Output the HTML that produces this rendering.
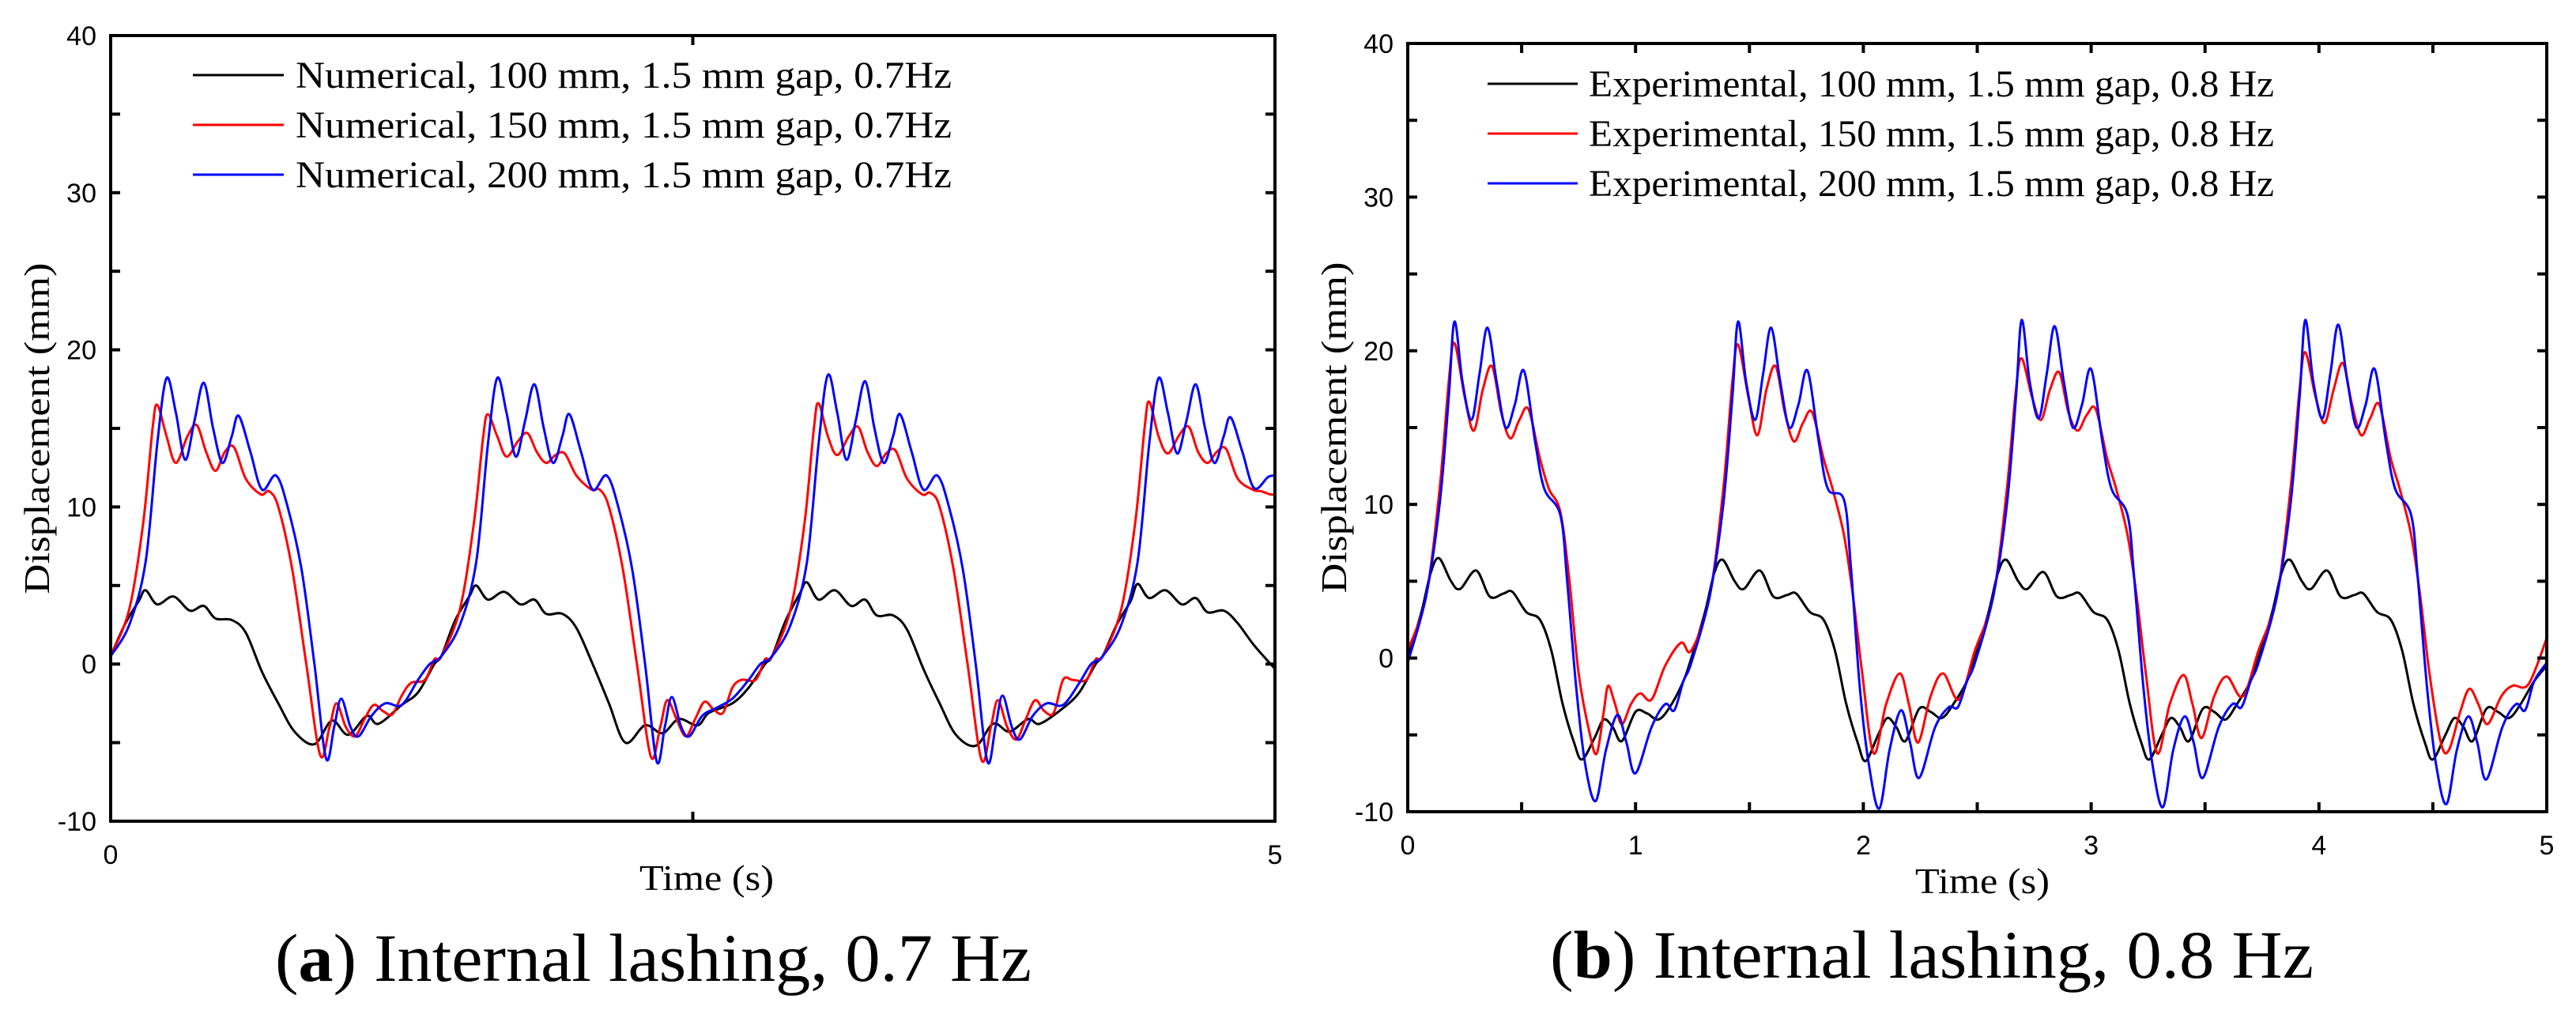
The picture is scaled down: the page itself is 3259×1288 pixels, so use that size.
<!DOCTYPE html>
<html><head><meta charset="utf-8"><style>html,body{margin:0;padding:0;background:#fff}svg{display:block}</style></head>
<body>
<svg id="fig" xmlns="http://www.w3.org/2000/svg" width="3259" height="1288" viewBox="0 0 3259 1288">
<rect width="3259" height="1288" fill="#fff"/>
<g id="pa"></g>
<g id="pb"></g>
</svg>
<script>
// ---------- Panel A data (0.7 Hz, numerical) ----------
const aBlueT=[0,0.08,0.15,0.20,0.24,0.28,0.32,0.36,0.40,0.44,0.48,0.52,0.55,0.60,0.65,0.71,0.76,0.82,0.875,0.925,0.96,0.99,1.03,1.065,1.12,1.18,1.25,1.32,1.37,
1.42,1.50,1.57,1.62,1.66,1.70,1.74,1.78,1.82,1.86,1.90,1.94,1.97,2.02,2.07,2.13,2.18,2.24,2.295,2.345,2.38,2.41,2.45,2.485,2.54,2.60,2.67,2.74,2.79,
2.84,2.92,2.99,3.04,3.08,3.12,3.16,3.20,3.24,3.28,3.32,3.36,3.39,3.44,3.49,3.55,3.60,3.66,3.715,3.765,3.80,3.83,3.87,3.905,3.96,4.02,4.09,4.16,4.21,
4.26,4.34,4.41,4.46,4.50,4.54,4.58,4.62,4.66,4.70,4.74,4.78,4.81,4.86,4.91,4.97,5.0];
const aBlueV=[0.5,2.5,6.5,14,18.2,16,13,15.5,17.9,15,12.8,14.5,15.8,13.5,11.1,12,10,6,0,-6,-4,-2.2,-4,-4.6,-3.3,-2.5,-2.6,-1,0,
0.5,2.5,6.5,14,18.2,16,13.2,15.5,17.8,15,12.8,14.5,15.9,13.5,11.1,12,10,6,0,-6.2,-4,-2.1,-4,-4.6,-3.3,-2.8,-2.2,-1,0,
0.5,2.5,6.5,14,18.4,16,13,15.5,18,15,12.8,14.5,15.9,13.5,11.1,12,10,6,0,-6.2,-4,-2,-4,-4.8,-3.3,-2.5,-2.6,-1.2,0,
0.5,2.5,6.5,14,18.2,16,13.4,15.5,17.8,15,12.8,14.5,15.7,13.5,11.2,11.9,12];
const aRedT=[0,0.08,0.14,0.18,0.20,0.24,0.28,0.33,0.37,0.41,0.45,0.49,0.53,0.58,0.645,0.68,0.72,0.78,0.84,0.90,0.94,0.97,1.01,1.05,1.09,1.13,1.17,1.21,1.25,1.29,1.35,1.39,
1.42,1.50,1.56,1.60,1.62,1.66,1.70,1.75,1.79,1.83,1.87,1.91,1.95,2.00,2.065,2.10,2.14,2.20,2.26,2.32,2.36,2.39,2.43,2.47,2.51,2.55,2.59,2.63,2.67,2.71,2.77,2.81,
2.84,2.92,2.98,3.02,3.04,3.08,3.12,3.17,3.21,3.25,3.29,3.33,3.37,3.42,3.485,3.52,3.56,3.62,3.68,3.74,3.78,3.81,3.85,3.89,3.93,3.97,4.01,4.05,4.09,4.13,4.19,4.23,
4.26,4.34,4.40,4.44,4.46,4.50,4.54,4.59,4.63,4.67,4.71,4.75,4.79,4.84,4.905,4.94,4.98,5.0];
const aRedV=[0.5,3.5,9,15,16.5,14.5,12.8,14.5,15.2,13.5,12.3,13.5,13.8,11.8,10.8,11,10,6,0,-5.8,-4,-2.5,-4,-4.6,-3.5,-2.6,-3,-3.2,-2,-1.2,-1,0.3,
0.5,3.5,9,14.5,15.9,14.5,13.2,14.2,14.7,13.5,12.8,13.3,13.4,12,11.1,11.1,10,6,0,-5.9,-4,-2.3,-3.5,-4.6,-3.5,-2.4,-2.9,-3.1,-1.5,-1,-1,0.3,
0.5,3.5,9,15,16.6,14.5,13.3,14.5,15.1,13.5,12.6,13.4,13.6,11.8,10.8,10.9,10,6,0,-6.1,-4,-2.3,-4,-4.8,-3.5,-2.3,-3,-3.1,-1,-1,-1,0.3,
0.5,3.5,9,15,16.7,14.5,13.4,14.6,15.1,13.5,12.8,13.5,13.7,11.8,11.1,11,10.8,10.8];
const aBlackT=[0,0.06,0.12,0.15,0.20,0.27,0.34,0.40,0.45,0.52,0.58,0.65,0.72,0.79,0.875,0.95,1.02,1.10,1.15,1.25,1.32,1.39,
1.42,1.48,1.54,1.57,1.62,1.69,1.76,1.82,1.87,1.94,2.00,2.07,2.14,2.21,2.295,2.37,2.44,2.52,2.57,2.67,2.74,2.81,
2.84,2.90,2.96,2.99,3.04,3.11,3.18,3.24,3.29,3.36,3.42,3.49,3.56,3.63,3.715,3.79,3.86,3.94,3.99,4.09,4.16,4.23,
4.26,4.32,4.38,4.41,4.46,4.53,4.60,4.66,4.71,4.78,4.84,4.91,5.0];
const aBlackV=[0.5,2.5,4,4.7,3.8,4.3,3.4,3.7,2.9,2.8,2,-0.5,-2.5,-4.3,-5.1,-3.6,-4.5,-3.3,-3.8,-2.6,-1.8,0,
0.5,2.8,4.3,5,4.1,4.6,3.8,4.1,3.2,3.2,2.3,0,-2.5,-5,-3.9,-4.4,-3.5,-3.9,-3.1,-2.5,-1.5,0,
0.5,2.8,4.5,5.2,4.1,4.7,3.7,4.1,3.1,3.1,2.2,-0.3,-2.5,-4.5,-5.2,-3.8,-4.3,-3.5,-3.8,-2.8,-1.8,0,
0.5,2.5,4,5.1,4.2,4.7,3.8,4.2,3.3,3.4,2.6,1.2,-0.3];
const aLegend=["Numerical, 100 mm, 1.5 mm gap, 0.7Hz","Numerical, 150 mm, 1.5 mm gap, 0.7Hz","Numerical, 200 mm, 1.5 mm gap, 0.7Hz"];
const aYTicks=[-10,0,10,20,30,40];
const aXTicks=[0,5];

// ---------- Panel B data (0.8 Hz, experimental) ----------
const bBlueT=[0,0.08,0.14,0.18,0.205,0.24,0.28,0.315,0.35,0.39,0.43,0.47,0.51,0.56,0.60,0.67,0.70,0.74,0.78,0.825,0.87,0.92,0.96,1.0,1.07,1.13,1.17,1.21,
1.245,1.325,1.385,1.425,1.45,1.485,1.525,1.56,1.595,1.635,1.675,1.715,1.755,1.805,1.845,1.915,1.945,1.985,2.025,2.07,2.115,2.165,2.205,2.245,2.315,2.375,2.415,2.455,
2.49,2.57,2.63,2.67,2.695,2.73,2.77,2.805,2.84,2.88,2.92,2.96,3.00,3.05,3.09,3.16,3.19,3.23,3.27,3.315,3.36,3.41,3.45,3.49,3.56,3.62,3.66,3.70,
3.735,3.815,3.875,3.915,3.94,3.975,4.015,4.05,4.085,4.125,4.165,4.205,4.245,4.295,4.335,4.405,4.435,4.475,4.515,4.56,4.605,4.655,4.695,4.735,4.805,4.865,4.905,4.945,5.0];
const bBlueV=[-0.3,4,10,17,21.9,18,15.5,18.5,21.5,18,15,16.5,18.7,14,11,9.3,5,-2,-7,-9.3,-6,-3.7,-5.5,-7.5,-4.5,-3,-3.4,-1.5,
-0.3,4,10,17,21.9,18,15.5,18.5,21.5,18,15,16.5,18.7,14,11,10.3,6,-2,-7,-9.8,-6,-3.4,-5.5,-7.8,-4.5,-3.2,-3.2,-1.5,
-0.3,4,10,17,22,18,15.6,18.5,21.6,18,15,16.5,18.8,14,11,9.3,5,-2,-7,-9.7,-6,-3.8,-5.5,-7.8,-4.5,-3,-3.2,-1.5,
-0.3,4,10,17,22,18,15.6,18.5,21.7,18,15,16.5,18.8,14,11,9.3,5,-2,-7,-9.5,-6,-3.8,-5.5,-7.9,-4.5,-3,-3.4,-1.5,-0.3];
const bRedT=[0,0.08,0.14,0.18,0.205,0.25,0.29,0.33,0.37,0.41,0.45,0.49,0.53,0.58,0.62,0.67,0.71,0.75,0.80,0.83,0.86,0.88,0.91,0.94,0.98,1.02,1.07,1.13,1.20,
1.245,1.325,1.385,1.425,1.45,1.495,1.535,1.575,1.615,1.655,1.695,1.735,1.775,1.825,1.865,1.915,1.955,1.995,2.045,2.10,2.16,2.20,2.24,2.295,2.35,2.42,
2.49,2.57,2.63,2.67,2.695,2.74,2.78,2.82,2.86,2.90,2.94,2.98,3.02,3.07,3.11,3.16,3.20,3.24,3.29,3.345,3.405,3.445,3.485,3.54,3.595,3.665,
3.735,3.815,3.875,3.915,3.94,3.985,4.025,4.065,4.105,4.145,4.185,4.225,4.265,4.315,4.355,4.405,4.445,4.485,4.535,4.57,4.62,4.66,4.70,4.74,4.80,4.85,4.92,5.0];
const bRedV=[0.5,4,11,18,20.5,17,14.8,17.5,19,16,14.3,15.5,16.2,13,11,9.5,5,-1,-5,-6.2,-3.5,-1.8,-3,-4.3,-3,-2.3,-2.7,-0.5,1,
0.5,4,11,18,20.4,17,14.5,17.5,19,16,14.1,15.3,16,13,11,8,4,-1,-6.2,-3,-1,-3,-5.5,-2.5,-1,-2.7,
0.5,4,11,17.5,19.5,17,15.5,17.5,18.6,16,14.8,15.8,16.2,13,11,8,4,-1,-6.2,-3,-1.1,-3,-5.2,-2.5,-1.2,-2.5,
0.5,4,11,17.5,19.9,17,15.3,17.5,19.2,16.5,14.5,15.6,16.5,13,11,8,4,-1,-5.5,-6,-3.5,-2,-3,-4.3,-2.5,-1.8,-1.7,1.3];
const bBlackT=[0,0.06,0.1,0.137,0.19,0.23,0.3,0.36,0.42,0.46,0.52,0.58,0.63,0.68,0.73,0.765,0.82,0.86,0.9,0.94,1.0,1.05,1.1,1.15,1.21,
1.245,1.305,1.345,1.382,1.435,1.475,1.545,1.605,1.665,1.705,1.765,1.825,1.875,1.925,1.975,2.01,2.065,2.105,2.145,2.185,2.245,2.295,2.345,2.395,2.455,
2.49,2.55,2.59,2.627,2.68,2.72,2.79,2.85,2.91,2.95,3.01,3.07,3.12,3.17,3.22,3.255,3.31,3.35,3.39,3.43,3.49,3.54,3.59,3.64,3.70,
3.735,3.795,3.835,3.872,3.925,3.965,4.035,4.095,4.155,4.195,4.255,4.315,4.365,4.415,4.465,4.50,4.555,4.595,4.635,4.675,4.735,4.785,4.835,4.885,4.945,5.0];
const bBlackV=[0,3,5.5,6.5,5,4.5,5.7,4,4.2,4.3,3,2.5,0.5,-3,-5.5,-6.6,-5.2,-4,-4.5,-5.4,-3.5,-3.6,-4,-3.2,-1.5,
0,3,5.5,6.4,5,4.5,5.7,4,4.1,4.2,3,2.5,0.5,-3,-5.5,-6.7,-5,-3.9,-4.5,-5.4,-3.3,-3.5,-3.9,-3,-1.5,
0,3,5.5,6.4,5,4.5,5.6,4,4.1,4.2,3,2.5,0.5,-3,-5.5,-6.6,-5,-3.9,-4.5,-5.4,-3.3,-3.5,-4,-3,-1.5,
0,3,5.5,6.4,5,4.5,5.7,4,4.1,4.2,3,2.5,0.5,-3,-5.5,-6.6,-5,-3.9,-4.5,-5.4,-3.3,-3.5,-3.9,-3,-1.5,-0.5];
const bLegend=["Experimental, 100 mm, 1.5 mm gap, 0.8 Hz","Experimental, 150 mm, 1.5 mm gap, 0.8 Hz","Experimental, 200 mm, 1.5 mm gap, 0.8 Hz"];
const bYTicks=[-10,0,10,20,30,40];
const bXTicks=[0,1,2,3,4,5];

const NS="http://www.w3.org/2000/svg";
function mk(parent,tag,attrs,text){const e=document.createElementNS(NS,tag);for(const k in attrs)e.setAttribute(k,attrs[k]);if(text!==undefined)e.textContent=text;parent.appendChild(e);return e;}
function smoothPath(pts){
  let d="M"+pts[0][0].toFixed(1)+","+pts[0][1].toFixed(1);
  for(let i=0;i<pts.length-1;i++){
    const p0=pts[Math.max(0,i-1)],p1=pts[i],p2=pts[i+1],p3=pts[Math.min(pts.length-1,i+2)];
    const c1=[p1[0]+(p2[0]-p0[0])/6,p1[1]+(p2[1]-p0[1])/6];
    const c2=[p2[0]-(p3[0]-p1[0])/6,p2[1]-(p3[1]-p1[1])/6];
    d+="C"+c1[0].toFixed(1)+","+c1[1].toFixed(1)+" "+c2[0].toFixed(1)+","+c2[1].toFixed(1)+" "+p2[0].toFixed(1)+","+p2[1].toFixed(1);
  }
  return d;
}
function panel(g,cfg){
  const L=cfg.L,R=cfg.R,T=cfg.T,B=cfg.B;
  const xs=t=>L+(t-0)/(5-0)*(R-L);
  const ys=v=>B-(v+10)/50*(B-T);
  const cp=mk(g,"clipPath",{id:cfg.id+"clip"});mk(cp,"rect",{x:L,y:T-2,width:R-L,height:B-T+4});
  const sg=mk(g,"g",{"clip-path":"url(#"+cfg.id+"clip)"});
  
  
  cfg.series.forEach(s=>{
    const pts=s.t.map((t,i)=>[xs(t),ys(s.v[i])]);
    const p=mk(sg,"path",{d:smoothPath(pts),fill:"none",stroke:s.c,"stroke-width":3,"stroke-linejoin":"round"});
    
    
  });
  const fr=mk(g,"rect",{x:L,y:T,width:R-L,height:B-T,fill:"none",stroke:"#000","stroke-width":4});
  
  
  for(let v=-10;v<=40;v+=5){
    const y=ys(v);
    mk(g,"line",{x1:L,x2:L+12,y1:y,y2:y,stroke:"#000","stroke-width":4});
    mk(g,"line",{x1:R,x2:R-12,y1:y,y2:y,stroke:"#000","stroke-width":4});
  }
  cfg.yTicks.forEach(v=>{
    const t=mk(g,"text",{x:L-18,y:ys(v)+12,"text-anchor":"end","font-family":"Liberation Sans, sans-serif","font-size":34},String(v));
    
    
  });
  for(let t=0;t<=5.001;t+=cfg.xMinor){
    const x=xs(t);
    mk(g,"line",{x1:x,x2:x,y1:B,y2:B-12,stroke:"#000","stroke-width":4});
    mk(g,"line",{x1:x,x2:x,y1:T,y2:T+12,stroke:"#000","stroke-width":4});
  }
  cfg.xTicks.forEach(v=>{
    const t=mk(g,"text",{x:xs(v),y:B+54,"text-anchor":"middle","font-family":"Liberation Sans, sans-serif","font-size":34},String(v));
    
    
  });
  const lg=mk(g,"g",{});
  
  
  cfg.legend.forEach((txt,i)=>{
    const y=cfg.legY+i*63;
    const ln=mk(lg,"line",{x1:cfg.legX1,x2:cfg.legX2,y1:y,y2:y,stroke:cfg.series[i].c,"stroke-width":3});
    
    
    const t=mk(lg,"text",{x:cfg.legTX,y:y+16,"font-family":"Liberation Serif, serif","font-size":48,textLength:cfg.legW,lengthAdjust:"spacingAndGlyphs"},txt);
    
    
  });
  const yt=mk(g,"text",{x:0,y:0,transform:"translate("+(cfg.yTitleX)+","+((T+B)/2)+") rotate(-90)","text-anchor":"middle","font-family":"Liberation Serif, serif","font-size":46,textLength:419,lengthAdjust:"spacingAndGlyphs"},"Displacement (mm)");
  
  
  const xt=mk(g,"text",{x:cfg.xTitleX,y:cfg.xTitleY,"text-anchor":"middle","font-family":"Liberation Serif, serif","font-size":46,textLength:170,lengthAdjust:"spacingAndGlyphs"},"Time (s)");
  
  
  const cap=mk(g,"text",{x:cfg.capX,y:cfg.capY,"font-family":"Liberation Serif, serif","font-size":86,textLength:cfg.capW,lengthAdjust:"spacingAndGlyphs"});
  
  
  mk(cap,"tspan",{},"(");
  mk(cap,"tspan",{"font-weight":"bold"},cfg.letter);
  mk(cap,"tspan",{},") Internal lashing, "+cfg.freq);
}
panel(document.getElementById("pa"),{id:"a",L:140,R:1613,T:45,B:1039,xMinor:2.5,xTicks:aXTicks,yTicks:aYTicks,
  series:[{t:aBlackT,v:aBlackV,c:"#000",name:"series-100mm"},{t:aRedT,v:aRedV,c:"#ff0000",name:"series-150mm"},{t:aBlueT,v:aBlueV,c:"#0000ff",name:"series-200mm"}],
  legend:aLegend,legY:95,legX1:244,legX2:359,legTX:374,legW:830,yTitleX:62,xTitleX:894,xTitleY:1126,capX:348,capY:1241,capW:957,letter:"a",freq:"0.7 Hz"});
panel(document.getElementById("pb"),{id:"b",L:1781,R:3222,T:55,B:1027,xMinor:0.5,xTicks:bXTicks,yTicks:bYTicks,
  series:[{t:bBlackT,v:bBlackV,c:"#000",name:"series-100mm"},{t:bRedT,v:bRedV,c:"#ff0000",name:"series-150mm"},{t:bBlueT,v:bBlueV,c:"#0000ff",name:"series-200mm"}],
  legend:bLegend,legY:106,legX1:1882,legX2:1996,legTX:2010,legW:867,yTitleX:1703,xTitleX:2508,xTitleY:1130,capX:1961,capY:1237,capW:966,letter:"b",freq:"0.8 Hz"});
</script>
</body></html>
